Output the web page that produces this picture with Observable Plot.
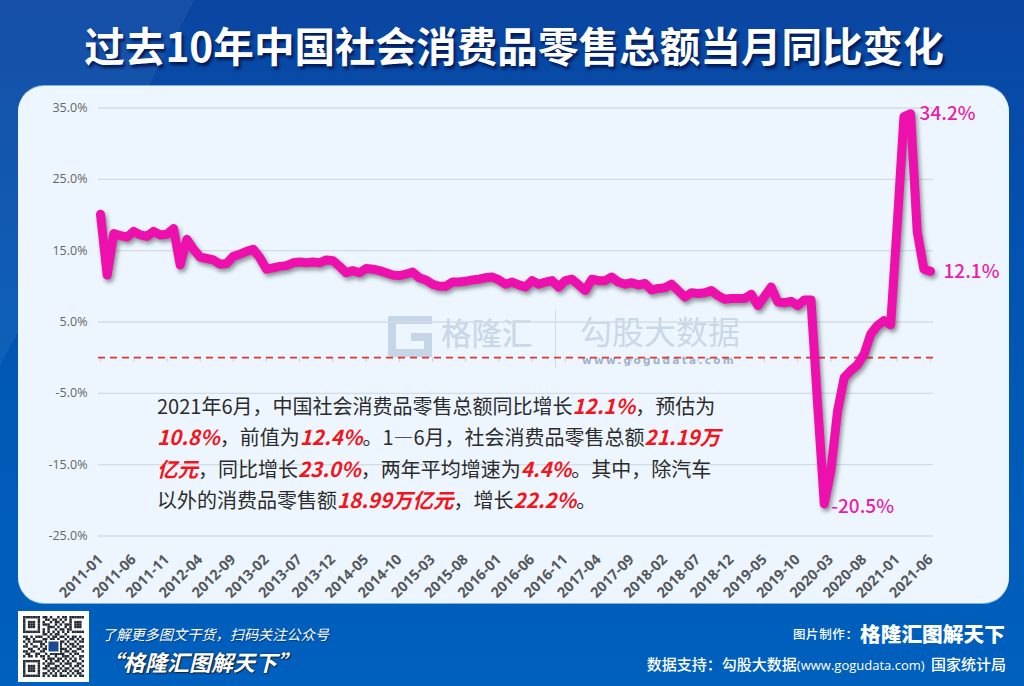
<!DOCTYPE html>
<html lang="zh"><head><meta charset="utf-8">
<script src="https://cdn.jsdelivr.net/npm/d3@7"></script>
<script src="https://cdn.jsdelivr.net/npm/@observablehq/plot@0.6"></script>
<style>
html,body{margin:0;padding:0;width:1024px;height:686px;overflow:hidden}
body{position:relative;font-family:"Noto Sans CJK SC","Noto Sans",sans-serif;
 background:linear-gradient(118deg,rgba(255,255,255,.05) 0 14%,rgba(255,255,255,0) 14% 100%),linear-gradient(180deg,#0a46a2 0,#0450ad 30%,#005ab6 60%,#0060bd 100%)}
.a{position:absolute;white-space:nowrap}
#panel{left:18px;top:86px;width:991px;height:517px;border-radius:26px;background:#edf6fe;box-shadow:0 -1px 0 #7fb0e6,0 1px 0 #7fb0e6}
#title{left:0;width:1028px;top:16px;text-align:center;color:#fff;font-size:40.6px;line-height:58px;font-weight:700;text-shadow:2px 3px 3px rgba(0,10,60,.75)}
#chart{left:0;top:0}
#chart svg{display:block}
#chart [aria-label="line"]{filter:drop-shadow(2px 3px 2px rgba(40,50,50,.5))}
.wm{color:#c9d8e8;line-height:1}
.n{left:157px;font-size:20px;line-height:24px;color:#2b2b2b}
.n b{color:#f3141c;font-style:italic;font-weight:700;font-size:20.5px}
.f{color:#fff}
</style></head><body>
<div class="a" id="panel"></div>
<div class="a" id="title">过去10年中国社会消费品零售总额当月同比变化</div>

<div class="a" style="left:388px;top:316px;width:28px;height:25px;border:8px solid #c5d6e8;border-right-color:transparent;border-radius:3px"></div>
<div class="a" style="left:411px;top:333px;width:21px;height:8px;background:#c5d6e8"></div>
<div class="a" style="left:424px;top:333px;width:8px;height:24px;background:#c5d6e8"></div>
<div class="a" style="left:412px;top:316px;width:20px;height:8px;background:#c5d6e8"></div>
<div class="a wm" style="left:441px;top:317px;font-size:30.5px;font-weight:500">格隆汇</div>
<div class="a" style="left:555px;top:310px;width:1px;height:58px;background:#cfdcea"></div>
<div class="a wm" style="left:580px;top:314px;font-size:32px">勾股大数据</div>
<div class="a wm" style="left:582px;top:354px;font:700 10.5px 'DejaVu Sans';letter-spacing:2.3px;color:#9db3cc">www.gogudata.com</div>

<div id="chart" class="a"></div>

<div class="a n" style="top:393px">2021年6月，中国社会消费品零售总额同比增长<b>12.1%</b>，预估为</div>
<div class="a n" style="top:424px"><b>10.8%</b>，前值为<b>12.4%</b>。1—6月，社会消费品零售总额<b>21.19万</b></div>
<div class="a n" style="top:456px"><b>亿元</b>，同比增长<b>23.0%</b>，两年平均增速为<b>4.4%</b>。其中，除汽车</div>
<div class="a n" style="top:487px">以外的消费品零售额<b>18.99万亿元</b>，增长<b>22.2%</b>。</div>

<div class="a" style="left:18px;top:611px;width:71px;height:71px;background:#fff"><canvas id="qr" width="61" height="61" style="position:absolute;left:5px;top:5px"></canvas></div>
<div class="a f" style="left:102px;top:624px;font-size:14.2px;line-height:20px;font-style:italic;text-shadow:1px 1px 1px rgba(0,20,70,.5)">了解更多图文干货，扫码关注公众号</div>
<div class="a f" style="left:101px;top:646px;font-size:22px;line-height:30px;font-style:italic;font-weight:700;text-shadow:0 0 2px #10243f,1px 1px 1px #10243f">“格隆汇图解天下”</div>
<div class="a f" style="left:793px;top:625px;font-size:12.5px;line-height:18px;letter-spacing:.6px;font-weight:500">图片制作：</div>
<div class="a f" style="left:860px;top:618px;font-size:20.7px;line-height:30px;font-weight:900">格隆汇图解天下</div>
<div class="a f" style="right:18px;top:654px;font-size:15px;line-height:20px;font-weight:500;word-spacing:3px">数据支持：勾股大数据<span style="font-size:13px;font-family:'Open Sans'">(www.gogudata.com)</span> 国家统计局</div>

<script>
const retailYoY = [
 20.1,11.6,17.4,17.1,16.9,17.7,17.2,17.0,17.7,17.2,17.3,18.1,
 13.0,16.6,15.2,14.1,13.9,13.7,13.1,13.2,14.2,14.5,14.9,15.2,
 14.0,12.4,12.6,12.8,12.9,13.3,13.4,13.3,13.4,13.3,13.7,13.6,
 12.8,11.9,12.2,11.9,12.5,12.4,12.2,11.9,11.6,11.5,11.7,12.0,
 11.2,10.9,10.3,10.0,10.0,10.6,10.6,10.7,10.9,11.0,11.2,11.3,
 10.9,10.3,10.6,10.2,9.9,10.8,10.3,10.6,10.8,9.9,10.8,11.0,
 10.2,9.4,11.0,10.8,10.8,11.3,10.6,10.3,10.5,10.2,10.4,9.5,
 9.7,9.8,10.3,9.4,8.5,9.1,9.0,9.1,9.4,8.7,8.2,8.3,
 8.3,8.3,8.9,7.3,8.6,9.9,7.8,7.7,7.9,7.3,8.1,8.1,
 -6.5,-20.5,-15.8,-7.5,-2.8,-1.8,-1.0,0.5,3.3,4.5,5.2,4.6,
 18.8,33.8,34.2,17.7,12.4,12.1];
const yTicks = [-25,-15,-5,5,15,25,35];
const xTicks = ["2011-01","2011-06","2011-11","2012-04","2012-09","2013-02","2013-07","2013-12","2014-05","2014-10","2015-03","2015-08","2016-01","2016-06","2016-11","2017-04","2017-09","2018-02","2018-07","2018-12","2019-05","2019-10","2020-03","2020-08","2021-01","2021-06"];
const peakLabel = [{month:"2021-03",value:34.2}];
const lastLabel = [{month:"2021-06",value:12.1}];
const lowLabel = [{month:"2020-02",value:-20.5}];

const fmtMonth = d3.utcFormat("%Y-%m");
const months = d3.utcMonths(new Date(Date.UTC(2011,0,1)), new Date(Date.UTC(2021,6,1))).map(fmtMonth);
const rows = months.map((month,i)=>({month,value:retailYoY[i]}));
const pct = d => d.toFixed(1)+"%";
const MAG = "#ee10ad", LBL = "#ea1eaa";
const cjk = '"Noto Sans CJK SC"';

const plot = Plot.plot({
  width:1024,height:686,marginTop:107.5,marginBottom:150.5,marginLeft:100,marginRight:94,
  style:{background:"transparent"},
  x:{type:"point",domain:months,padding:0,label:null},
  y:{domain:[-25,35],label:null},
  marks:[
    Plot.ruleY(yTicks,{stroke:"#d3dbe4",strokeWidth:1.3,insetLeft:-2,insetRight:-3}),
    Plot.ruleX(xTicks,{x:d=>d,y1:0,y2:-0.7,stroke:"#c8d0d8"}),
    Plot.ruleY([0],{stroke:"#e8332a",strokeWidth:1.6,strokeDasharray:"7,5",insetLeft:-2,insetRight:-3}),
    Plot.axisY({ticks:yTicks,tickSize:0,tickPadding:13,tickFormat:pct,fontSize:12.5,fill:"#666",fontFamily:"'Open Sans'",label:null}),
    Plot.axisX({ticks:xTicks,tickSize:0,tickPadding:21,tickRotate:-45,fontSize:14.5,fontWeight:700,fill:"#55585c",fontFamily:"'Open Sans'",label:null}),
    Plot.line(rows,{x:"month",y:"value",stroke:MAG,strokeWidth:9}),
    Plot.text(peakLabel,{x:"month",y:"value",text:d=>pct(d.value),textAnchor:"start",dx:9,dy:0,fill:LBL,fontSize:19,fontFamily:cjk,fontWeight:500}),
    Plot.text(lastLabel,{x:"month",y:"value",text:d=>pct(d.value),textAnchor:"start",dx:13,dy:1,fill:LBL,fontSize:19,fontFamily:cjk,fontWeight:500}),
    Plot.text(lowLabel,{x:"month",y:"value",text:d=>pct(d.value),textAnchor:"start",dx:7,dy:3,fill:LBL,fontSize:19,fontFamily:cjk,fontWeight:500})
  ]
});
document.getElementById("chart").append(plot);

// decorative QR block
const qrRows = [
"1111111011010010110111111","1000001001101101010100000","1011101010010110100101110","1011101011100101011101110",
"1011101000111010010101110","1000001010100101101100000","1111111010101010101011111","0000000011010110010000000",
"1101011100101101101011010","0110100011011010010110101","1010111101100101101001011","0101000110110011010110100",
"1100110101011111001011011","0011001011010001110100110","1101100110010101011011001","0110011001011111100101100",
"1011010110100100111010011","0000000010111011010101010","1111111001010110101011001","1000001010111001011100110",
"1011101001100110100101101","1011101011011101011010010","1011101000101010110101101","1000001011010101001010110",
"1111111010101101110101011"];
const c=document.getElementById("qr").getContext("2d");c.fillStyle="#222831";
const s=61/25;qrRows.forEach((r,j)=>[...r].forEach((b,i)=>{if(b==="1")c.fillRect(i*s,j*s,s,s)}));
c.fillStyle="#fff";c.fillRect(24,24,13,13);c.fillStyle="#1b4a92";c.fillRect(25.5,25.5,10,10);
</script>
</body></html>
